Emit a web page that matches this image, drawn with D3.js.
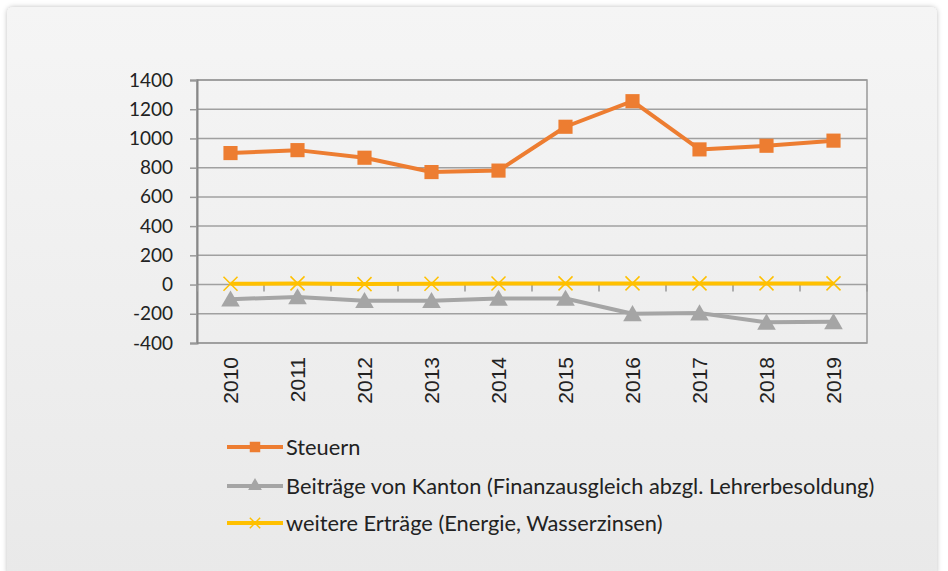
<!DOCTYPE html>
<html lang="de">
<head>
<meta charset="UTF-8">
<title>Erträge 2010-2019</title>
<script src="https://d3js.org/d3.v7.min.js"></script>
<style>
    body { margin: 0; background: #fff; }
    svg { display: block; }
</style>
</head>
<body>
<div class="viz"></div>
<script>
    const years = ["2010","2011","2012","2013","2014","2015","2016","2017","2018","2019"];
    const steuern = [900, 920, 868, 770, 780, 1080, 1255, 925, 950, 985];
    const beitraege = [-100, -85, -110, -110, -95, -95, -200, -195, -258, -255];
    const weitere = [5, 8, 3, 6, 7, 8, 8, 8, 8, 8];
    const yTicks = [-400, -200, 0, 200, 400, 600, 800, 1000, 1200, 1400];
    const seriesNames = [
        "Steuern",
        "Beiträge von Kanton (Finanzausgleich abzgl. Lehrerbesoldung)",
        "weitere Erträge (Energie, Wasserzinsen)"
    ];

    const width = 948, height = 571;
    const plot = { left: 197, right: 867, top: 80, bottom: 343 };

    const svg = d3.select(".viz").append("svg")
        .attr("width", width)
        .attr("height", height);

    const defs = svg.append("defs");
    const grad = defs.append("linearGradient").attr("id", "bg").attr("x1", 0).attr("y1", 0).attr("x2", 0).attr("y2", 1);
    grad.append("stop").attr("offset", "0%").attr("stop-color", "#f5f5f5");
    grad.append("stop").attr("offset", "100%").attr("stop-color", "#e9e9e9");
    const f = defs.append("filter").attr("id", "shadow").attr("x", "-5%").attr("y", "-5%").attr("width", "110%").attr("height", "110%");
    f.append("feDropShadow").attr("dx", 0).attr("dy", 0).attr("stdDeviation", 2.5).attr("flood-color", "#000").attr("flood-opacity", 0.25);

    svg.append("rect")
        .attr("x", 7).attr("y", 7)
        .attr("width", 930).attr("height", 570)
        .attr("rx", 6)
        .attr("fill", "url(#bg)")
        .attr("filter", "url(#shadow)");

    const x = d3.scaleBand().domain(years).range([plot.left, plot.right]);
    const y = d3.scaleLinear().domain([-400, 1400]).range([plot.bottom, plot.top]);

    // gridlines
    svg.append("g").selectAll("line")
        .data(yTicks)
        .join("line")
        .attr("x1", plot.left).attr("x2", plot.right)
        .attr("y1", d => y(d)).attr("y2", d => y(d))
        .attr("stroke", "#a0a0a0")
        .attr("stroke-width", 1.5);

    // plot frame
    svg.append("rect")
        .attr("x", plot.left).attr("y", plot.top)
        .attr("width", plot.right - plot.left).attr("height", plot.bottom - plot.top)
        .attr("fill", "none")
        .attr("stroke", "#999")
        .attr("stroke-width", 1.5);

    // y axis (plain hyphen for negatives, like the original)
    const yAxis = svg.append("g")
        .attr("transform", `translate(${plot.left},0)`)
        .call(d3.axisLeft(y).tickValues(yTicks).tickSize(7).tickPadding(17).tickFormat(d => String(d)));
    yAxis.select(".domain").attr("stroke", "#888").attr("stroke-width", 2);
    yAxis.selectAll(".tick line").attr("stroke", "#999").attr("stroke-width", 1.5);
    yAxis.selectAll("text")
        .attr("font-family", "Lato, 'Open Sans', sans-serif")
        .attr("font-size", 19)
        .attr("fill", "#222");

    // x axis ticks at zero line
    const bounds = years.map(d => x(d)).concat([plot.right]);
    svg.append("g").selectAll("line")
        .data(bounds)
        .join("line")
        .attr("x1", d => d).attr("x2", d => d)
        .attr("y1", y(0)).attr("y2", y(0) + 7)
        .attr("stroke", "#999")
        .attr("stroke-width", 1.5);

    // x labels (low position)
    svg.append("g").selectAll("text")
        .data(years)
        .join("text")
        .attr("transform", d => `translate(${x(d) + x.bandwidth() / 2 + 7},${plot.bottom + 14}) rotate(-90)`)
        .attr("text-anchor", "end")
        .attr("font-family", "'Liberation Sans Narrow', 'Liberation Sans', Arial, sans-serif")
        .attr("font-size", 21)
        .attr("fill", "#222")
        .text(d => d);

    const cx = d => x(d) + x.bandwidth() / 2;
    const line = d3.line().x((d, i) => cx(years[i])).y(d => y(d));

    const colors = ["#ED7D31", "#A5A5A5", "#FFC000"];
    const data = [steuern, beitraege, weitere];
    const markerSym = [d3.symbolSquare, d3.symbolTriangle, d3.symbolX];
    const markerSize = [200, 150, 130];

    function drawMarker(g, i, px, py, scale) {
        const s = d3.symbol().type(markerSym[i]).size(markerSize[i] * scale);
        const p = g.append("path")
            .attr("d", s())
            .attr("transform", `translate(${px},${py})`);
        if (i === 2) {
            p.attr("fill", "none").attr("stroke", colors[i]).attr("stroke-width", 1.5);
        } else {
            p.attr("fill", colors[i]);
        }
    }

    // draw order: weitere, beitraege, steuern
    [2, 1, 0].forEach(i => {
        const g = svg.append("g");
        g.append("path")
            .datum(data[i])
            .attr("d", line)
            .attr("fill", "none")
            .attr("stroke", colors[i])
            .attr("stroke-width", 4)
            .attr("stroke-linejoin", "round");
        data[i].forEach((v, j) => drawMarker(g, i, cx(years[j]), y(v) + (i === 1 ? 2 : 0), 1));
    });

    // legend
    const legendY = [447, 486, 523];
    const leg = svg.append("g");
    seriesNames.forEach((name, i) => {
        const g = leg.append("g");
        g.append("line")
            .attr("x1", 227).attr("x2", 283)
            .attr("y1", legendY[i]).attr("y2", legendY[i])
            .attr("stroke", colors[i])
            .attr("stroke-width", 4);
        drawMarker(g, i, 255, legendY[i], 0.55);
        g.append("text")
            .attr("x", 286)
            .attr("y", legendY[i])
            .attr("dy", "0.35em")
            .attr("font-family", "Lato, 'Open Sans', sans-serif")
            .attr("font-size", 21.8)
            .attr("fill", "#222")
            .text(name);
    });
</script>
</body>
</html>
